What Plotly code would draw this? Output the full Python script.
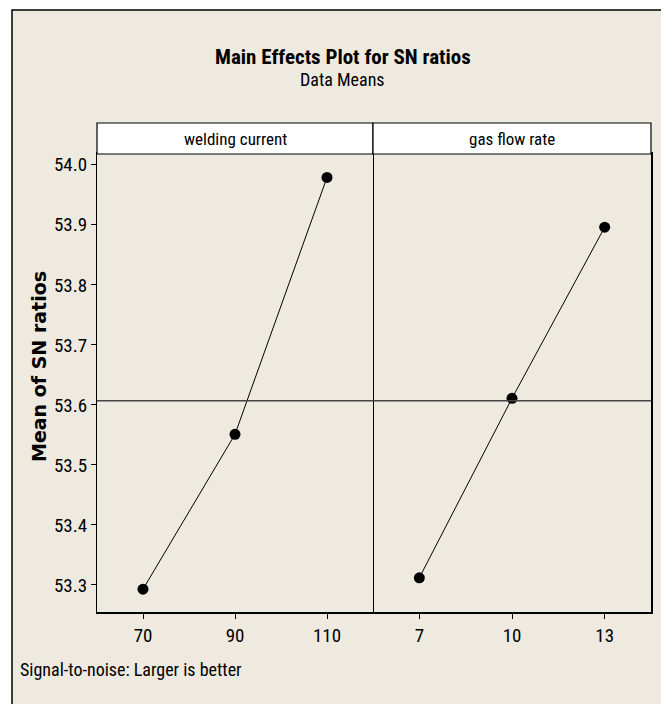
import numpy as np
import plotly.graph_objects as go

# ---- data ----
welding_levels = [70, 90, 110]
welding_sn = [53.293, 53.551, 53.979]
gas_levels = [7, 10, 13]
gas_sn = [53.312, 53.611, 53.896]
y_ticks = [53.3, 53.4, 53.5, 53.6, 53.7, 53.8, 53.9, 54.0]
panel_titles = ["welding current", "gas flow rate"]
title = "Main Effects Plot for SN ratios"
subtitle = "Data Means"
y_title = "Mean of SN ratios"
footnote = "Signal-to-noise: Larger is better"

grand_mean = float(np.mean(welding_sn + gas_sn))

OFF = 8  # page body margin
W, H = 669 - OFF, 704 - OFF
def px(x):
    return (x - OFF) / W
def py(y):
    return 1 - (y - OFF) / H

NARROW = "Liberation Sans Narrow, Arial Narrow, Roboto Condensed, sans-serif"
BG = "#EEEAE0"

left, mid, right = 97, 373, 651
top_plot, bottom_plot, top_head = 154, 612, 123

fig = go.Figure()
fig.add_trace(go.Scatter(x=welding_levels, y=welding_sn, mode="lines+markers",
                         line=dict(color="black", width=1),
                         marker=dict(color="black", size=11, symbol="circle"),
                         xaxis="x", yaxis="y", showlegend=False))
fig.add_trace(go.Scatter(x=gas_levels, y=gas_sn, mode="lines+markers",
                         line=dict(color="black", width=1),
                         marker=dict(color="black", size=11, symbol="circle"),
                         xaxis="x2", yaxis="y2", showlegend=False))

yrange = [53.255, 54.018]
tickfont = dict(family=NARROW, size=19, color="black")
xaxis_common = dict(showline=True, linecolor="black", linewidth=1.5, mirror=True,
                    showgrid=False, zeroline=False, ticks="outside", ticklen=5,
                    tickcolor="black", tickwidth=1, tickfont=tickfont)

fig.update_layout(
    width=W, height=H,
    margin=dict(l=0, r=0, t=0, b=0),
    paper_bgcolor="white",
    plot_bgcolor="white",
    xaxis=dict(domain=[px(left), px(mid)], range=[60, 120],
               tickvals=welding_levels, ticktext=[str(v) for v in welding_levels],
               anchor="y", **xaxis_common),
    xaxis2=dict(domain=[px(mid), px(right)], range=[5.5, 14.5],
                tickvals=gas_levels, ticktext=[str(v) for v in gas_levels],
                anchor="y2", **xaxis_common),
    yaxis=dict(domain=[py(bottom_plot), py(top_plot)], range=yrange,
               tickvals=y_ticks, ticktext=[f"{v:.1f}" for v in y_ticks],
               anchor="x", showline=True, linecolor="black", linewidth=1.2,
               mirror=True, showgrid=False, zeroline=False, ticks="outside",
               ticklen=5, tickcolor="black", tickwidth=1, tickfont=tickfont),
    yaxis2=dict(domain=[py(bottom_plot), py(top_plot)], range=yrange,
                tickvals=y_ticks, showticklabels=False, ticks="",
                anchor="x2", side="right", showline=True, linecolor="black",
                linewidth=1.5, mirror=False, showgrid=False, zeroline=False),
)

shapes = []
# beige frame
shapes.append(dict(type="rect", xref="paper", yref="paper",
                   x0=px(12), x1=1.01, y0=-0.01, y1=py(10),
                   fillcolor=BG, line=dict(color="black", width=1.5), layer="below"))
# panel header boxes
for x0, x1 in [(left, mid), (mid, right)]:
    shapes.append(dict(type="rect", xref="paper", yref="paper",
                       x0=px(x0), x1=px(x1), y0=py(top_plot), y1=py(top_head),
                       fillcolor="white", line=dict(color="black", width=1.2)))
# reference line (grand mean)
shapes.append(dict(type="line", xref="paper", yref="y",
                   x0=px(left), x1=px(right), y0=grand_mean, y1=grand_mean,
                   line=dict(color="#444444", width=1.5)))
fig.update_layout(shapes=shapes)

ann = []
ann.append(dict(text=f"<b>{title}</b>", x=px(343), y=py(57), xref="paper", yref="paper",
                showarrow=False, font=dict(family=NARROW, size=21, color="black"),
                xanchor="center", yanchor="middle"))
ann.append(dict(text=subtitle, x=px(343), y=py(79), xref="paper", yref="paper",
                showarrow=False, font=dict(family=NARROW, size=18, color="black"),
                xanchor="center", yanchor="middle"))
for (x0, x1), t in zip([(left, mid), (mid, right)], panel_titles):
    ann.append(dict(text=t, x=px((x0 + x1) / 2), y=py(139), xref="paper", yref="paper",
                    showarrow=False, font=dict(family=NARROW, size=17, color="black"),
                    xanchor="center", yanchor="middle"))
ann.append(dict(text=f"<b>{y_title}</b>", x=px(39), y=py(367), xref="paper", yref="paper",
                showarrow=False, textangle=-90,
                font=dict(family="DejaVu Sans, Verdana, sans-serif", size=19, color="black"),
                xanchor="center", yanchor="middle"))
ann.append(dict(text=footnote, x=px(18), y=py(669), xref="paper", yref="paper",
                showarrow=False, font=dict(family=NARROW, size=18, color="black"),
                xanchor="left", yanchor="middle"))
fig.update_layout(annotations=ann)

fig.write_html("out.html")
